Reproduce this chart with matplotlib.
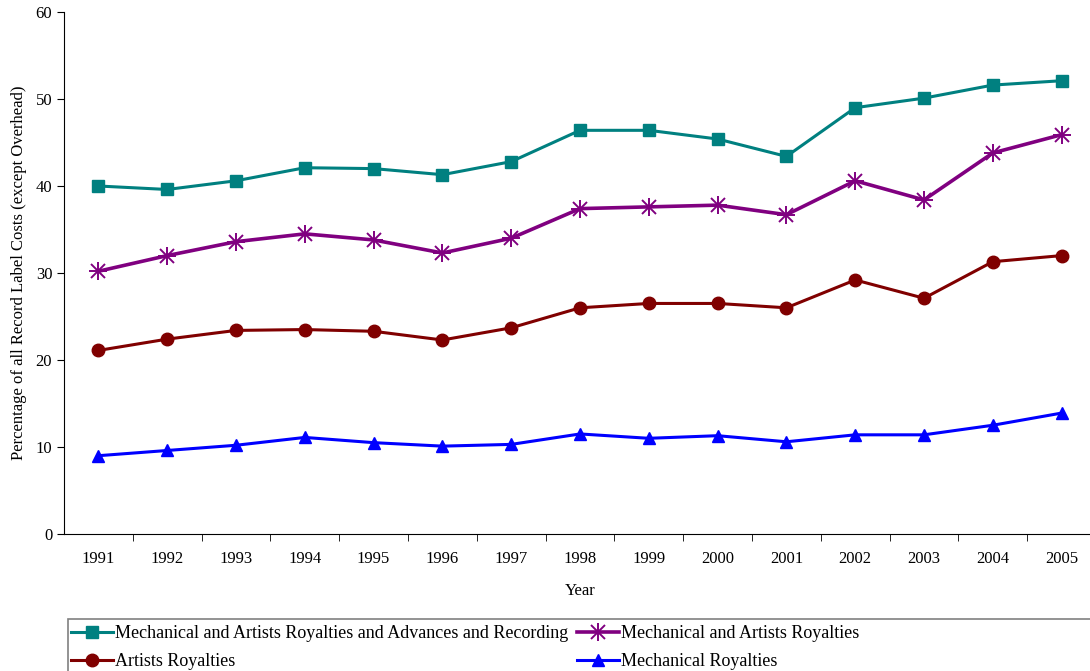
import matplotlib
matplotlib.use("Agg")
from matplotlib import pyplot as plt
from matplotlib.patches import Rectangle

years = ["1991", "1992", "1993", "1994", "1995", "1996", "1997", "1998",
         "1999", "2000", "2001", "2002", "2003", "2004", "2005"]

all_costs = [40.0, 39.6, 40.6, 42.1, 42.0, 41.3, 42.8, 46.4, 46.4, 45.4,
             43.4, 49.0, 50.1, 51.6, 52.1]
mech_artists = [30.2, 32.0, 33.6, 34.5, 33.8, 32.3, 34.0, 37.4, 37.6, 37.8,
                36.7, 40.6, 38.4, 43.8, 45.9]
artists = [21.1, 22.4, 23.4, 23.5, 23.3, 22.3, 23.7, 26.0, 26.5, 26.5,
           26.0, 29.2, 27.1, 31.3, 32.0]
mechanical = [9.0, 9.6, 10.2, 11.1, 10.5, 10.1, 10.3, 11.5, 11.0, 11.3,
              10.6, 11.4, 11.4, 12.5, 13.9]

plt.rcParams["font.family"] = ["Liberation Serif", "DejaVu Serif"]

W, H = 1090, 671
fig = plt.figure(figsize=(W / 100, H / 100), dpi=100)
ax = fig.add_axes([64 / W, 137 / H, 1032 / W, 522 / H])

x = list(range(len(years)))
h1, = ax.plot(x, all_costs, color="#008080", lw=2.2, marker="s", ms=9,
              label="Mechanical and Artists Royalties and Advances and Recording")
h2, = ax.plot(x, mech_artists, color="#800080", lw=2.6, marker="x", ms=10,
              mew=1.4, label="Mechanical and Artists Royalties")
h2b, = ax.plot(x, mech_artists, color="#800080", lw=0, marker="+", ms=13,
               mew=1.4)
h3, = ax.plot(x, artists, color="#800000", lw=2.2, marker="o", ms=9,
              label="Artists Royalties")
h4, = ax.plot(x, mechanical, color="#0000FF", lw=2.2, marker="^", ms=9,
              label="Mechanical Royalties")

ax.set_xlim(-0.5, len(years) - 0.5)
ax.set_ylim(0, 60)
ax.set_yticks(range(0, 61, 10))
ax.set_xticks(x)
ax.set_xticklabels(years)
ax.set_xticks([i - 0.5 for i in range(1, len(years) + 1)], minor=True)
ax.tick_params(axis="x", which="major", length=0, labelsize=12, pad=12)
ax.tick_params(axis="x", which="minor", length=5, direction="out")
ax.tick_params(axis="y", length=5, direction="out", labelsize=12)
for s in ["top", "right"]:
    ax.spines[s].set_visible(False)

ax.set_xlabel("Year", fontsize=12, labelpad=12)
ax.set_ylabel("Percentage of all Record Label Costs (except Overhead)",
              fontsize=12, labelpad=6)

# legend box runs off the right edge like in the original
fig.patches.append(Rectangle((68 / W, 1 - 676 / H), 1030 / W, 57 / H,
                             transform=fig.transFigure, fill=False,
                             edgecolor="#808080", lw=1.2))

leg_opts = dict(loc="upper left", fontsize=13, frameon=False, borderpad=0,
                labelspacing=0.6, handlelength=2.3, handletextpad=0.15,
                borderaxespad=0)
fig.legend([h1, h3], [h1.get_label(), h3.get_label()],
           bbox_to_anchor=(71 / W, 1 - 625 / H), **leg_opts)
fig.legend([(h2, h2b), h4], [h2.get_label(), h4.get_label()],
           bbox_to_anchor=(577 / W, 1 - 625 / H), **leg_opts)

fig.savefig("out.png", dpi=100)
